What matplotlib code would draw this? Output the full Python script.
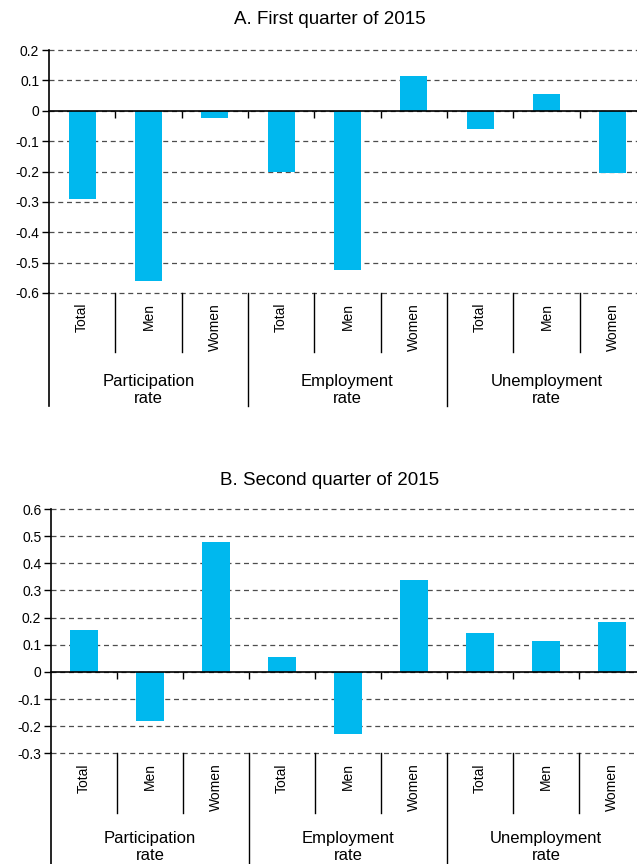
import numpy as np
import matplotlib.pyplot as plt
from matplotlib.transforms import blended_transform_factory

plt.rcParams['font.family'] = ['Liberation Sans', 'DejaVu Sans']

groups = ["Participation\nrate", "Employment\nrate", "Unemployment\nrate"]
sexes = ["Total", "Men", "Women"]
categories = sexes * 3

q1_values = [-0.29, -0.56, -0.025, -0.20, -0.525, 0.115, -0.06, 0.055, -0.205]
q2_values = [0.155, -0.18, 0.48, 0.055, -0.23, 0.34, 0.145, 0.115, 0.185]

BAR = '#00B8EE'
GRID = '#4d4d4d'
W, H = 637, 864

fig = plt.figure(figsize=(W / 100, H / 100), dpi=100)


def tick_text(t):
    s = f"{t:g}"
    return "0" if s == "-0" else s


def panel(left, top, right, bottom, values, ymin, ymax, title, title_y,
          sep_end, group_end, label_y):
    ax = fig.add_axes([left / W, 1 - bottom / H, (right - left) / W, (bottom - top) / H])
    x = np.arange(len(values)) + 0.5
    ax.bar(x, values, width=0.41, color=BAR, zorder=2)
    ax.set_xlim(0, len(values))
    ax.set_ylim(ymin, ymax)

    yt = np.round(np.arange(ymin, ymax + 0.05, 0.1), 1)
    ax.set_yticks(yt)
    ax.set_yticklabels([tick_text(t) for t in yt], fontsize=10)
    ax.yaxis.grid(True, linestyle=(0, (4, 3)), color=GRID, lw=0.9)
    for gl in ax.get_ygridlines():
        gl.set_clip_on(False)
    ax.set_axisbelow(True)

    # zero line acts as the x axis, with short marks between categories
    ax.spines['bottom'].set_position(('data', 0))
    ax.spines['bottom'].set_linewidth(1.2)
    ax.spines['left'].set_linewidth(1.2)
    ax.spines['top'].set_visible(False)
    ax.spines['right'].set_visible(False)
    ax.set_xticks(np.arange(1, len(values)))
    ax.tick_params(axis='x', direction='out', length=5, width=1, labelbottom=False)
    ax.tick_params(axis='y', direction='out', length=5, width=1, pad=2)

    trans = blended_transform_factory(ax.transData, fig.transFigure)
    fy = lambda py: 1 - py / H
    for i, name in enumerate(categories):
        ax.text(i + 0.5, fy(bottom + 10), name, transform=trans, rotation=90,
                ha='center', va='top', fontsize=10)
    for b in range(1, len(values)):
        end = group_end if b % 3 == 0 else sep_end
        ax.plot([b, b], [fy(bottom), fy(end)], color='black', lw=1,
                transform=trans, clip_on=False)
    ax.plot([0, 0], [fy(bottom), fy(group_end)], color='black', lw=1.2,
            transform=trans, clip_on=False)
    for g, name in enumerate(groups):
        ax.text(g * 3 + 1.5, fy(label_y), name, transform=trans, ha='center',
                va='center', fontsize=12, linespacing=1.15, multialignment='center')

    fig.text(330 / W, fy(title_y), title, ha='center', va='center', fontsize=13.5)
    return ax


panel(49, 50, 646, 293, q1_values, -0.6, 0.2, "A. First quarter of 2015", 20,
      352, 406, 390)
panel(51, 509, 645, 753.3, q2_values, -0.3, 0.6, "B. Second quarter of 2015", 481,
      813, 870, 847)

fig.savefig('out.png', dpi=100)
